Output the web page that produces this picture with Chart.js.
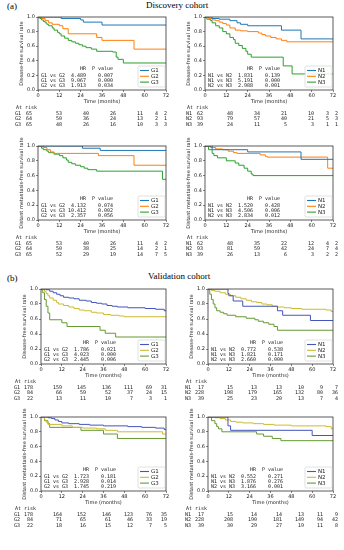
<!DOCTYPE html>
<html>
<head>
<meta charset="utf-8">
<script src="https://cdn.jsdelivr.net/npm/chart.js@4.4.1/dist/chart.umd.min.js"></script>
<style>
  body { margin: 0; background: #fff; width: 344px; height: 550px; position: relative; overflow: hidden; }
  canvas { position: absolute; }
  .t { position: absolute; font-family: "Liberation Serif", "DejaVu Serif", serif; font-size: 9px; color: #000; white-space: nowrap; line-height: 10px; }
</style>
</head>
<body>
<div class="t" style="left:7px;top:1px">(a)</div>
<div class="t" style="left:146px;top:0px">Discovery cohort</div>
<div class="t" style="left:7px;top:273px">(b)</div>
<div class="t" style="left:148px;top:271px">Validation cohort</div>

<canvas id="c1"></canvas>
<canvas id="c2"></canvas>
<canvas id="c3"></canvas>
<canvas id="c4"></canvas>
<canvas id="c5"></canvas>
<canvas id="c6"></canvas>
<canvas id="c7"></canvas>
<canvas id="c8"></canvas>

<script>
// Kaplan-Meier curves, [months, survival]
const discDfsG1 = [[0,1],[13,0.98],[24,0.96],[25.5,0.93],[36,0.89],[72,0.89]];
const discDfsG2 = [[0,1],[2,0.98],[4,0.95],[6,0.92],[8,0.9],[12,0.88],[14,0.84],[17,0.77],[33,0.72],[36,0.68],[54,0.56],[72,0.56]];
const discDfsG3 = [[0,1],[1,0.98],[2,0.96],[3,0.94],[4,0.92],[5,0.9],[6,0.88],[8,0.85],[9,0.82],[11,0.79],[12,0.77],[13,0.74],[15,0.71],[17,0.68],[19,0.66],[21,0.64],[23,0.62],[25,0.6],[27,0.58],[30,0.56],[33,0.53],[42,0.52],[44,0.45],[45,0.42],[48,0.37],[72,0.37]];

const discDfsN1 = [[0,1],[4,0.98],[8,0.97],[14,0.95],[18,0.92],[20,0.9],[24,0.88],[43,0.82],[54,0.7],[72,0.7]];
const discDfsN2 = [[0,1],[2,0.98],[4,0.96],[6,0.95],[8,0.93],[10,0.91],[12,0.89],[14,0.85],[17,0.82],[20,0.81],[24,0.8],[30,0.78],[32,0.76],[34,0.74],[37,0.72],[40,0.7],[43,0.68],[46,0.66],[72,0.66]];
const discDfsN3 = [[0,1],[1,0.97],[3,0.95],[4,0.92],[6,0.88],[8,0.85],[10,0.8],[12,0.77],[14,0.72],[16,0.69],[17,0.64],[19,0.61],[21,0.57],[23,0.53],[24,0.49],[26,0.45],[44,0.33],[49,0.22],[72,0.22]];

const discDmfsG1 = [[0,1],[25,0.97],[35,0.94],[72,0.94]];
const discDmfsG2 = [[0,1],[3,0.98],[5,0.95],[7,0.92],[9,0.9],[34,0.87],[54,0.74],[72,0.74]];
const discDmfsG3 = [[0,1],[2,0.97],[3,0.95],[5,0.93],[6,0.91],[9,0.89],[12,0.87],[14,0.84],[16,0.81],[17,0.78],[19,0.76],[21,0.74],[24,0.72],[26,0.7],[28,0.68],[33,0.66],[70,0.55],[72,0.55]];

const discDmfsN1 = [[0,1],[4,0.95],[24,0.92],[54,0.82],[72,0.82]];
const discDmfsN2 = [[0,1],[3,0.98],[6,0.96],[10,0.95],[13,0.93],[16,0.91],[18,0.9],[31,0.88],[34,0.86],[35,0.85],[69,0.7],[72,0.7]];
const discDmfsN3 = [[0,1],[2,0.95],[4,0.9],[5,0.87],[7,0.84],[12,0.8],[17,0.77],[19,0.74],[22,0.7],[24,0.66],[26,0.62],[27,0.6],[72,0.6]];

const valDfsG1 = [[0,1],[3,0.99],[5,0.97],[7,0.95],[9,0.93],[11,0.91],[13,0.89],[16,0.88],[19,0.87],[22,0.85],[26,0.84],[29,0.82],[32,0.81],[35,0.8],[38,0.78],[41,0.77],[44,0.76],[50,0.75],[60,0.74],[66,0.73],[71,0.71],[72,0.71]];
const valDfsG2 = [[0,1],[2,0.97],[3,0.94],[4,0.91],[5,0.88],[7,0.85],[9,0.82],[10,0.8],[13,0.78],[16,0.76],[19,0.74],[22,0.72],[25,0.71],[29,0.69],[32,0.68],[36,0.66],[40,0.65],[45,0.64],[48,0.63],[72,0.63]];
const valDfsG3 = [[0,1],[1,0.95],[2,0.86],[3,0.77],[4,0.68],[5,0.59],[12,0.55],[15,0.5],[34,0.45],[37,0.41],[43,0.36],[72,0.36]];

const valDfsN1 = [[0,1],[11.5,0.94],[12,0.91],[14.5,0.84],[20,0.77],[40,0.71],[43,0.65],[59,0.58],[72,0.58]];
const valDfsN2 = [[0,1],[2,0.98],[4,0.97],[7,0.95],[10,0.93],[13,0.91],[16,0.89],[19,0.87],[22,0.85],[25,0.83],[28,0.82],[31,0.8],[34,0.79],[37,0.77],[40,0.76],[44,0.75],[48,0.74],[54,0.73],[68,0.72],[71,0.7],[72,0.7]];
const valDfsN3 = [[0,1],[1,0.93],[2,0.86],[3,0.8],[4,0.75],[5,0.71],[7,0.69],[9,0.67],[11,0.65],[16,0.63],[22,0.61],[27,0.59],[29,0.57],[32,0.55],[35,0.53],[38,0.5],[40,0.45],[72,0.45]];

const valDmfsG1 = [[0,1],[4,0.99],[6,0.98],[8,0.96],[10,0.94],[12,0.92],[16,0.91],[22,0.9],[28,0.89],[36,0.88],[50,0.87],[58,0.86],[66,0.85],[71,0.83],[72,0.83]];
const valDmfsG2 = [[0,1],[2,0.96],[3,0.93],[4,0.9],[12,0.88],[18,0.86],[24,0.85],[32,0.84],[37,0.82],[44,0.8],[70,0.77],[72,0.77]];
const valDmfsG3 = [[0,1],[2,0.95],[4,0.91],[5,0.86],[23,0.82],[36,0.77],[44,0.71],[72,0.71]];

const valDmfsN1 = [[0,1],[11.5,0.88],[13,0.82],[60,0.75],[72,0.75]];
const valDmfsN2 = [[0,1],[4,0.99],[7,0.98],[10,0.96],[13,0.94],[16,0.93],[20,0.92],[26,0.91],[32,0.9],[38,0.89],[48,0.88],[68,0.87],[71,0.84],[72,0.84]];
const valDmfsN3 = [[0,1],[2,0.95],[4,0.91],[5,0.87],[6,0.84],[8,0.8],[28,0.77],[32,0.74],[37,0.71],[42,0.68],[72,0.68]];

// numbers at risk at 0,12,...,72 months
const riskDiscDfsG = [[65,53,40,26,11,4,2],[64,50,36,24,13,2,1],[65,48,26,16,10,3,3]];
const riskDiscDfsN = [[62,48,34,21,10,3,2],[93,79,57,40,21,5,3],[39,24,11,5,3,1,1]];
const riskDiscDmfsG = [[65,53,40,26,11,4,2],[64,50,38,25,14,2,1],[65,52,29,19,14,7,5]];
const riskDiscDmfsN = [[62,48,35,22,12,4,2],[93,81,59,42,24,7,4],[39,26,13,6,3,2,2]];
const riskValDfsG = [[178,159,145,136,111,69,31],[84,66,59,52,37,24,15],[22,13,11,10,7,3,1]];
const riskValDfsN = [[17,15,13,13,10,9,7],[228,198,179,165,132,80,36],[39,25,23,20,13,7,4]];
const riskValDmfsG = [[178,164,152,146,123,76,35],[84,71,65,61,46,33,19],[22,18,16,15,12,7,5]];
const riskValDmfsN = [[17,15,14,14,13,11,9],[228,208,190,181,149,94,42],[39,30,29,27,19,11,8]];

// hazard ratio tables: [comparison, HR, P]
const hrDiscDfsG = [['G1 vs G2','4.489','0.007'],['G1 vs G3','9.067','0.000'],['G2 vs G3','1.913','0.034']];
const hrDiscDfsN = [['N1 vs N2','1.831','0.139'],['N1 vs N3','5.191','0.000'],['N2 vs N3','2.988','0.001']];
const hrDiscDmfsG = [['G1 vs G2','4.132','0.074'],['G1 vs G3','10.412','0.002'],['G2 vs G3','2.357','0.056']];
const hrDiscDmfsN = [['N1 vs N2','1.520','0.428'],['N1 vs N3','4.506','0.006'],['N2 vs N3','2.834','0.012']];
const hrValDfsG = [['G1 vs G2','1.786','0.021'],['G1 vs G3','4.023','0.000'],['G2 vs G3','2.445','0.006']];
const hrValDfsN = [['N1 vs N2','0.772','0.538'],['N1 vs N3','1.821','0.171'],['N2 vs N3','2.660','0.000']];
const hrValDmfsG = [['G1 vs G2','1.723','0.181'],['G1 vs G3','2.928','0.014'],['G2 vs G3','1.745','0.219']];
const hrValDmfsN = [['N1 vs N2','0.552','0.271'],['N1 vs N3','1.876','0.276'],['N2 vs N3','3.166','0.001']];

const gLabels = ['G1','G2','G3'];
const nLabels = ['N1','N2','N3'];
const xTicks = [0,12,24,36,48,60,72];

const discColors = ['#1f77b4','#ff7f0e','#2ca02c'];
const valColors = ['#4455bb','#ccbb33','#669933'];

const DFS = 'Disease-free survival rate';
const DMFS = 'Distant metastasis-free survival rate';

// plot boxes in page pixels
const panels = [
  {id:'c1', cx:0,   L:38,  T:17,  R:166, B:90,  ylab:DFS,  names:gLabels, curves:[discDfsG1,discDfsG2,discDfsG3], risk:riskDiscDfsG, hr:hrDiscDfsG, colors:discColors, cols:'disc', lab:-23, shift:0},
  {id:'c2', cx:172, L:205, T:17,  R:333, B:90,  ylab:DFS,  names:nLabels, curves:[discDfsN1,discDfsN2,discDfsN3], risk:riskDiscDfsN, hr:hrDiscDfsN, colors:discColors, cols:'disc', lab:-19, shift:4},
  {id:'c3', cx:0,   L:38,  T:146, R:166, B:220, ylab:DMFS, names:gLabels, curves:[discDmfsG1,discDmfsG2,discDmfsG3], risk:riskDiscDmfsG, hr:hrDiscDmfsG, colors:discColors, cols:'disc', lab:-23, shift:0},
  {id:'c4', cx:172, L:205, T:146, R:333, B:220, ylab:DMFS, names:nLabels, curves:[discDmfsN1,discDmfsN2,discDmfsN3], risk:riskDiscDmfsN, hr:hrDiscDmfsN, colors:discColors, cols:'disc', lab:-19, shift:4},
  {id:'c5', cx:0,   L:41,  T:289, R:166, B:364, ylab:DFS,  names:gLabels, curves:[valDfsG1,valDfsG2,valDfsG3], risk:riskValDfsG, hr:hrValDfsG, colors:valColors, cols:'val', lab:-27, shift:0},
  {id:'c6', cx:172, L:208, T:289, R:333, B:364, ylab:DFS,  names:nLabels, curves:[valDfsN1,valDfsN2,valDfsN3], risk:riskValDfsN, hr:hrValDfsN, colors:valColors, cols:'val', lab:-23, shift:4},
  {id:'c7', cx:0,   L:41,  T:417, R:166, B:491, ylab:DMFS, names:gLabels, curves:[valDmfsG1,valDmfsG2,valDmfsG3], risk:riskValDmfsG, hr:hrValDmfsG, colors:valColors, cols:'val', lab:-27, shift:0},
  {id:'c8', cx:172, L:208, T:417, R:333, B:491, ylab:DMFS, names:nLabels, curves:[valDmfsN1,valDmfsN2,valDmfsN3], risk:riskValDmfsN, hr:hrValDmfsN, colors:valColors, cols:'val', lab:-23, shift:4}
];

// right edges of the at-risk columns, relative to the plot's left spine
const riskCols = {
  disc: [-6,24,51,78,105,120,129],
  val:  [-8,21,45,70,92,111,126]
};

const MONO = '"DejaVu Sans Mono", monospace';
const SANS = '"DejaVu Sans", sans-serif';
const INK = '#222';

const extras = {
  id: 'extras',
  afterDraw(chart, args, opts) {
    const p = opts.panel;
    const {ctx, chartArea: a} = chart;
    const ox = a.left, B = a.bottom;
    ctx.save();
    // spines
    ctx.strokeStyle = '#333';
    ctx.lineWidth = 0.8;
    ctx.strokeRect(a.left, a.top, a.right - a.left, a.bottom - a.top);

    // HR table
    ctx.fillStyle = INK;
    ctx.font = '5px ' + MONO;
    ctx.textBaseline = 'middle';
    ctx.textAlign = 'right';
    ctx.fillText('HR', ox + 48, B - 21);
    ctx.fillText('P value', ox + 75, B - 21);
    p.hr.forEach((row, i) => {
      const y = B - 14.3 + i * 5;
      ctx.textAlign = 'left';
      ctx.fillText(row[0], ox + 3, y);
      ctx.textAlign = 'right';
      ctx.fillText(row[1], ox + 48, y);
      ctx.fillText(row[2], ox + 75, y);
    });

    // legend
    const lx = a.right - 28, ly = B - 24, lw = 27, lh = 21;
    ctx.fillStyle = 'rgba(255,255,255,0.85)';
    ctx.strokeStyle = '#ccc';
    ctx.lineWidth = 0.6;
    ctx.beginPath();
    ctx.roundRect(lx, ly, lw, lh, 1.5);
    ctx.fill();
    ctx.stroke();
    ctx.font = '5.5px ' + SANS;
    ctx.textAlign = 'left';
    p.names.forEach((n, i) => {
      const y = ly + 4.5 + i * 5.8;
      ctx.strokeStyle = p.colors[i];
      ctx.lineWidth = 1.1;
      ctx.beginPath();
      ctx.moveTo(lx + 2, y);
      ctx.lineTo(lx + 11, y);
      ctx.stroke();
      ctx.fillStyle = INK;
      ctx.fillText(n, lx + 13, y);
    });

    // numbers at risk
    ctx.font = '5px ' + MONO;
    ctx.fillStyle = INK;
    ctx.textAlign = 'left';
    ctx.fillText('At risk', ox + p.lab + 1, B + 18);
    const cols = riskCols[p.cols];
    p.risk.forEach((row, i) => {
      const y = B + 23.5 + i * 5.5;
      ctx.textAlign = 'left';
      ctx.fillText(p.names[i], ox + p.lab, y);
      ctx.textAlign = 'right';
      row.forEach((v, j) => ctx.fillText(String(v), ox + cols[j] + p.shift, y));
    });
    ctx.restore();
  }
};

panels.forEach(p => {
  const cv = document.getElementById(p.id);
  const cy = p.T - 16;
  const w = 172, h = p.B + 38 - cy;
  cv.width = w; cv.height = h;
  cv.style.left = p.cx + 'px';
  cv.style.top = cy + 'px';
  const yW = p.L - p.cx;
  const xH = 14.3;

  new Chart(cv, {
    type: 'line',
    data: {
      datasets: p.curves.map((c, i) => ({
        label: p.names[i],
        data: c.map(d => ({x: d[0], y: d[1]})),
        stepped: true,
        borderColor: p.colors[i],
        borderWidth: 1,
        pointRadius: 0,
        fill: false
      }))
    },
    options: {
      responsive: false,
      animation: false,
      devicePixelRatio: 1,
      layout: { padding: { left: 0, top: p.T - cy, right: p.cx + w - p.R, bottom: h - (p.B - cy) - xH } },
      plugins: { legend: { display: false }, tooltip: { enabled: false }, extras: { panel: p } },
      scales: {
        x: {
          type: 'linear', min: 0, max: 72,
          afterBuildTicks: s => { s.ticks = xTicks.map(v => ({value: v})); },
          ticks: { font: { size: 5, family: SANS }, color: INK, padding: 1, maxRotation: 0 },
          grid: { drawOnChartArea: false, tickLength: 2, color: '#333', lineWidth: 0.6 },
          border: { display: false },
          title: { display: true, text: 'Time (months)', font: { size: 5, family: SANS }, color: INK, padding: 0 },
          afterFit: s => { s.height = xH; }
        },
        y: {
          min: 0, max: 1,
          ticks: { stepSize: 0.2, font: { size: 5, family: SANS }, color: INK, padding: 1, callback: v => v.toFixed(1) },
          grid: { drawOnChartArea: false, tickLength: 2, color: '#333', lineWidth: 0.6 },
          border: { display: false },
          title: { display: true, text: p.ylab, font: { size: 5, family: SANS }, color: INK, padding: { top: yW - 19, bottom: 0 } },
          afterFit: s => { s.width = yW; }
        }
      }
    },
    plugins: [extras]
  });
});
</script>
</body>
</html>
